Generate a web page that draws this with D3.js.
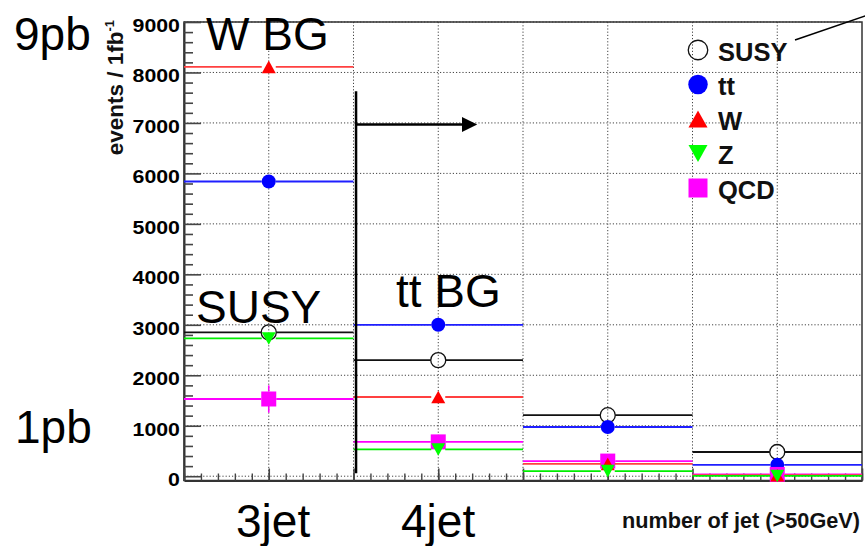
<!DOCTYPE html>
<html>
<head>
<meta charset="utf-8">
<script src="https://cdn.jsdelivr.net/npm/d3@7"></script>
<style>
  html, body { margin: 0; padding: 0; background: #fff; }
  svg { display: block; font-family: "Liberation Sans", Arial, Helvetica, sans-serif; }
</style>
</head>
<body>
<svg id="chart" width="865" height="546"></svg>
<script>
// Jet multiplicity bins (one bin per jet count)
const nJets = [3, 4, 5, 6];

// Expected events per 1 fb^-1 in each jet bin
const susy  = [2850, 2300, 1210, 480];
const ttbar = [5840, 3000, 975, 225];
const wjets = [8110, 1570, 245, 20];
const zjets = [2730, 530, 100, 5];
const qcd   = [1530, 680, 300, 35];

// Statistical uncertainties
const susyErr  = [60, 50, 35, 22];
const ttbarErr = [90, 55, 30, 15];
const wjetsErr = [90, 40, 15, 5];
const zjetsErr = [50, 20, 10, 2];
const qcdErr   = [270, 60, 40, 10];

// Legend entries and axis ticks
const seriesNames = ["SUSY", "tt", "W", "Z", "QCD"];
const yMajorTicks = d3.range(0, 9001, 1000);
const yMinorTicks = d3.range(0, 9001, 200).filter(v => v % 1000 !== 0);
const xMajorTicks = d3.range(2.5, 6.51, 0.5);
const xMinorTicks = d3.range(25, 66).map(v => v / 10);
const xTitle = "number of jet (>50GeV)";

const svg = d3.select("#chart");
const frame = { left: 184, right: 862, top: 22, bottom: 480.5 };

const x = d3.scaleLinear().domain([2.5, 6.5]).range([frame.left, frame.right]);
const y = d3.scaleLinear().domain([-85, 9000]).range([frame.bottom, frame.top]);

// ---- grid ----
const grid = svg.append("g").attr("stroke", "#444").attr("stroke-width", 1)
  .attr("stroke-dasharray", "1.2,2");
grid.selectAll("line.h").data(yMajorTicks).join("line").attr("class", "h")
  .attr("x1", frame.left).attr("x2", frame.right)
  .attr("y1", d => y(d)).attr("y2", d => y(d));
grid.selectAll("line.v").data(xMajorTicks.slice(1, -1)).join("line").attr("class", "v")
  .attr("y1", frame.top).attr("y2", frame.bottom)
  .attr("x1", d => x(d)).attr("x2", d => x(d));

// ---- frame ----
svg.append("rect")
  .attr("x", frame.left).attr("y", frame.top)
  .attr("width", frame.right - frame.left).attr("height", frame.bottom - frame.top)
  .attr("fill", "none").attr("stroke", "#333").attr("stroke-width", 1.5);

// ---- y axis ----
const yAxis = svg.append("g").attr("transform", `translate(${frame.left},0)`)
  .call(d3.axisLeft(y).tickValues(yMajorTicks).tickSizeInner(-17).tickSizeOuter(0)
    .tickPadding(4).tickFormat(d3.format("d")));
yAxis.select(".domain").attr("stroke", "#333").attr("stroke-width", 2);
yAxis.selectAll(".tick line").attr("stroke", "#444").attr("stroke-width", 1.6);
yAxis.selectAll(".tick text")
  .attr("font-family", "'Liberation Sans', Arial, sans-serif")
  .attr("font-weight", "bold").attr("font-size", 17.5).attr("fill", "#000")
  .attr("transform", "scale(1.22,1)")
  .attr("x", -4 / 1.22).attr("dy", null).attr("y", 9.3);

const yMinor = svg.append("g").attr("transform", `translate(${frame.left},0)`)
  .call(d3.axisLeft(y).tickValues(yMinorTicks).tickSizeInner(-9).tickSizeOuter(0).tickFormat(""));
yMinor.select(".domain").remove();
yMinor.selectAll(".tick line").attr("stroke", "#444").attr("stroke-width", 1.6);

// ---- x axis ----
const xAxis = svg.append("g").attr("transform", `translate(0,${frame.bottom})`)
  .call(d3.axisBottom(x).tickValues(xMajorTicks).tickSizeInner(-12).tickSizeOuter(0).tickFormat(""));
xAxis.select(".domain").attr("stroke", "#333").attr("stroke-width", 2);
xAxis.selectAll(".tick line").attr("stroke", "#444").attr("stroke-width", 1.6);

const xMinor = svg.append("g").attr("transform", `translate(0,${frame.bottom})`)
  .call(d3.axisBottom(x).tickValues(xMinorTicks).tickSizeInner(-7).tickSizeOuter(0).tickFormat(""));
xMinor.select(".domain").remove();
xMinor.selectAll(".tick line").attr("stroke", "#444").attr("stroke-width", 1.4);

// ---- axis titles ----
const yTitle = svg.append("text")
  .attr("transform", "translate(123,20) rotate(-90)")
  .attr("text-anchor", "end").attr("font-weight", "bold").attr("font-size", 22.5).attr("fill", "#111");
yTitle.append("tspan").text("events / 1fb");
yTitle.append("tspan").attr("dy", -9).attr("font-size", 13).text("-1");

svg.append("text").attr("x", 860).attr("y", 528)
  .attr("text-anchor", "end").attr("font-weight", "bold").attr("font-size", 21.7).attr("fill", "#111")
  .text(xTitle);

// ---- marker shapes ----
function markerPath(shape, s) {
  const h = s / 2;
  switch (shape) {
    case "up":   return `M0,${-h * 0.9}L${h},${h * 0.9}L${-h},${h * 0.9}Z`;
    case "down": return `M0,${h * 0.9}L${h},${-h * 0.9}L${-h},${-h * 0.9}Z`;
    case "square": return `M${-h},${-h}H${h}V${h}H${-h}Z`;
    default: return d3.arc()({ innerRadius: 0, outerRadius: h, startAngle: 0, endAngle: 2 * Math.PI });
  }
}

// draw order: SUSY, tt, QCD, W, Z
const series = [
  { name: "SUSY", values: susy,  errs: susyErr,  line: "#111", fill: "none", stroke: "#111", shape: "circle", size: 15 },
  { name: "tt",   values: ttbar, errs: ttbarErr, line: "#1f1fff", fill: "#0000ff", stroke: "none", shape: "circle", size: 14 },
  { name: "QCD",  values: qcd,   errs: qcdErr,   line: "#ff00ff", fill: "#ff00ff", stroke: "none", shape: "square", size: 15 },
  { name: "W",    values: wjets, errs: wjetsErr, line: "#ff4040", fill: "#ff0000", stroke: "none", shape: "up", size: 14 },
  { name: "Z",    values: zjets, errs: zjetsErr, line: "#00ee00", fill: "#00ff00", stroke: "none", shape: "down", size: 14 }
];

const marks = svg.append("g");
series.forEach(s => {
  const g = marks.append("g");
  const gap = s.size / 2;
  const pts = nJets.map((n, i) => ({ n, v: s.values[i], e: s.errs[i] }));
  // horizontal bin-width bars, interrupted by the marker
  g.selectAll("line.l").data(pts).join("line").attr("class", "l")
    .attr("x1", d => x(d.n - 0.5)).attr("x2", d => x(d.n) - gap)
    .attr("y1", d => y(d.v)).attr("y2", d => y(d.v))
    .attr("stroke", s.line).attr("stroke-width", 1.8);
  g.selectAll("line.r").data(pts).join("line").attr("class", "r")
    .attr("x1", d => x(d.n) + gap).attr("x2", d => x(d.n + 0.5))
    .attr("y1", d => y(d.v)).attr("y2", d => y(d.v))
    .attr("stroke", s.line).attr("stroke-width", 1.8);
  // vertical error bars when longer than the marker
  const errPts = pts.filter(d => y(d.v) - y(d.v + d.e) > gap);
  g.selectAll("line.eu").data(errPts).join("line").attr("class", "eu")
    .attr("x1", d => x(d.n)).attr("x2", d => x(d.n))
    .attr("y1", d => y(d.v + d.e)).attr("y2", d => y(d.v) - gap)
    .attr("stroke", s.line).attr("stroke-width", 1.6);
  g.selectAll("line.ed").data(errPts).join("line").attr("class", "ed")
    .attr("x1", d => x(d.n)).attr("x2", d => x(d.n))
    .attr("y1", d => y(d.v) + gap).attr("y2", d => y(d.v - d.e))
    .attr("stroke", s.line).attr("stroke-width", 1.6);
  g.selectAll("path").data(pts).join("path")
    .attr("transform", d => `translate(${x(d.n)},${y(d.v)})`)
    .attr("d", markerPath(s.shape, s.size))
    .attr("fill", s.fill).attr("stroke", s.stroke).attr("stroke-width", 1.3);
});

// ---- legend ----
const legendOrder = seriesNames.map(n => series.find(s => s.name === n));
const legend = svg.append("g");
legendOrder.forEach((s, i) => {
  const ly = 50 + i * 34.5;
  legend.append("path")
    .attr("transform", `translate(698,${ly})`)
    .attr("d", markerPath(s.shape, s.shape === "circle" ? 19.5 : 19))
    .attr("fill", s.fill).attr("stroke", s.stroke).attr("stroke-width", 1.3);
  legend.append("text").attr("x", 718).attr("y", ly + 10.5)
    .attr("font-weight", "bold").attr("font-size", 25.5).attr("fill", "#111")
    .text(s.name);
});

// ---- annotations ----
const ann = svg.append("g").attr("stroke", "#000").attr("stroke-width", 2.5);
ann.append("line").attr("x1", x(3.515)).attr("x2", x(3.515)).attr("y1", y(7630)).attr("y2", y(60));
ann.append("line").attr("x1", x(3.515)).attr("x2", x(4.15)).attr("y1", y(6970)).attr("y2", y(6970));
svg.append("path")
  .attr("d", `M${x(4.14)},${y(6970) - 7.5}L${x(4.23)},${y(6970)}L${x(4.14)},${y(6970) + 7.5}Z`)
  .attr("fill", "#000");
svg.append("line").attr("x1", 795).attr("y1", 40).attr("x2", 875).attr("y2", 12.6)
  .attr("stroke", "#000").attr("stroke-width", 1.6);

const notes = [
  { t: "9pb",   x: 14,  y: 50 },
  { t: "W BG",  x: 206, y: 50 },
  { t: "SUSY",  x: 196, y: 323 },
  { t: "tt BG", x: 396, y: 306.5 },
  { t: "1pb",   x: 15,  y: 443 },
  { t: "3jet",  x: 236, y: 536.5 },
  { t: "4jet",  x: 401, y: 536.5 }
];
svg.append("g").selectAll("text").data(notes).join("text")
  .attr("x", d => d.x).attr("y", d => d.y)
  .attr("font-size", 46).attr("fill", "#000")
  .text(d => d.t);
</script>
</body>
</html>
